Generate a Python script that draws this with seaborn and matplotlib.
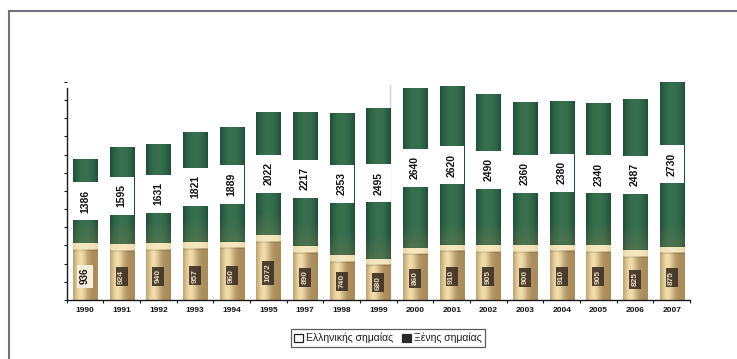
import numpy as np
import pandas as pd
import matplotlib
matplotlib.use("Agg")
import matplotlib.pyplot as plt
import seaborn as sns
from matplotlib.colors import to_rgb
from matplotlib.patches import Rectangle, Patch
from matplotlib.ticker import MultipleLocator, FixedLocator

# Ships per year: Greek flag (bottom) and foreign flag (top)
years = ["1990", "1991", "1992", "1993", "1994", "1995", "1997", "1998", "1999",
         "2000", "2001", "2002", "2003", "2004", "2005", "2006", "2007"]
greek = [936, 924, 940, 957, 960, 1072, 890, 740, 680,
         860, 910, 905, 900, 910, 905, 825, 875]
foreign = [1386, 1595, 1631, 1821, 1889, 2022, 2217, 2353, 2495,
           2640, 2620, 2490, 2360, 2380, 2340, 2487, 2730]
legend_labels = ["Ελληνικής σημαίας", "Ξένης σημαίας"]

df = pd.DataFrame({"year": years, "greek": greek, "foreign": foreign})
df["total"] = df["greek"] + df["foreign"]

sns.set_theme(style="white")
plt.rcParams["font.family"] = ["Liberation Sans", "DejaVu Sans"]

W, H = 737, 359
fig = plt.figure(figsize=(W / 100, H / 100), dpi=100)
fig.patch.set_facecolor("white")
ax = fig.add_axes([66.7 / W, 1 - 300 / H, (690 - 66.7) / W, 220 / H])
ax.set_facecolor("white")

GREEN = "#2c6448"
BEIGE = "#d8bc86"
BAR_W = 0.66

sns.barplot(data=df, x="year", y="total", color=GREEN, width=BAR_W,
            saturation=1, linewidth=0, ax=ax)
sns.barplot(data=df, x="year", y="greek", color=BEIGE, width=BAR_W,
            saturation=1, linewidth=0, ax=ax)

n = len(years)
patches = list(ax.patches)
green_patches = patches[:n]
beige_patches = patches[n:2 * n]


def mix(c1, c2, f):
    c1 = np.array(to_rgb(c1))
    c2 = np.array(to_rgb(c2))
    f = np.asarray(f)[..., None]
    return c1 * (1 - f) + c2 * f


def cylinder_profile(cols, edge, mid):
    t = np.linspace(0, 1, cols)
    f = np.sin(np.pi * t) ** 0.7
    return mix(edge, mid, f)


# shaded fills so the columns look rounded, as in a 3D column chart
for i, p in enumerate(green_patches):
    x0, w, h = p.get_x(), p.get_width(), p.get_height()
    rows, cols = 200, 40
    yv = np.linspace(0, h, rows)
    base = cylinder_profile(cols, "#1d4c36", "#37704f")
    img = np.repeat(base[None, :, :], rows, axis=0)
    fade = np.clip(1 - (yv - greek[i]) / 380.0, 0, 1) * 0.35
    fade[yv < greek[i]] = 0
    olive = np.array(to_rgb("#7d7a4c"))
    img = img * (1 - fade[:, None, None]) + olive * fade[:, None, None]
    im = ax.imshow(img, extent=[x0, x0 + w, 0, h], origin="lower",
                   aspect="auto", interpolation="bicubic",
                   zorder=p.get_zorder() + 0.05)
    im.set_clip_path(p)

for i, p in enumerate(beige_patches):
    x0, w, h = p.get_x(), p.get_width(), p.get_height()
    rows, cols = 200, 40
    yv = np.linspace(0, h, rows)
    t = np.linspace(0, 1, cols)
    edge = np.array(to_rgb("#a98b5c"))
    hi = np.array(to_rgb("#f1dcaa"))
    f = np.exp(-((t - 0.3) / 0.28) ** 2)
    base = edge * (1 - f[:, None]) + hi * f[:, None]
    img = np.repeat(base[None, :, :], rows, axis=0)
    band = yv > h - 105
    img[band] = mix("#e9d3a2", "#f6e8c0", np.sin(np.pi * t) ** 0.5)
    edge_line = (yv > h - 130) & (yv <= h - 105)
    img[edge_line] = img[edge_line] * 0.88
    im = ax.imshow(img, extent=[x0, x0 + w, 0, h], origin="lower",
                   aspect="auto", interpolation="bilinear",
                   zorder=p.get_zorder() + 0.1)
    im.set_clip_path(p)

# value labels
for i in range(n):
    ax.text(i, greek[i] + foreign[i] / 2, f"{foreign[i]}", rotation=90,
            ha="center", va="center", fontsize=7.5, fontweight="bold",
            color="#111111", zorder=10,
            bbox=dict(boxstyle="square,pad=0.72", facecolor="white",
                      edgecolor="none"))
    if i == 0:
        ax.text(i, greek[i] * 0.42, f"{greek[i]}", rotation=90,
                ha="center", va="center", fontsize=7, fontweight="bold",
                color="#111111", zorder=10,
                bbox=dict(boxstyle="square,pad=0.35", facecolor="#f7efdc",
                          edgecolor="none"))
    else:
        ax.text(i, greek[i] * 0.42, f"{greek[i]}", rotation=90,
                ha="center", va="center", fontsize=6, fontweight="bold",
                color="#e6d9bd", zorder=10,
                bbox=dict(boxstyle="square,pad=0.3", facecolor="#3d3024",
                          edgecolor="none", alpha=0.9))

# faint vertical rule after 1999
ax.plot([8.31, 8.31], [0, 3550], color="#cfcfcf", lw=1.0, zorder=1,
        clip_on=False)

ax.set_xlim(-0.5, n - 0.5)
ax.set_ylim(0, 3630)
ax.set_xlabel("")
ax.set_ylabel("")

for side in ("top", "right"):
    ax.spines[side].set_visible(False)
for side in ("left", "bottom"):
    ax.spines[side].set_color("#1a1a1a")
    ax.spines[side].set_linewidth(1.0)
ax.spines["left"].set_bounds(0, 3500)

ax.yaxis.set_major_locator(MultipleLocator(300))
ax.set_yticklabels([])
ax.tick_params(axis="y", which="major", direction="out", length=2.5,
               width=0.8, color="#1a1a1a", left=True)
ax.xaxis.set_minor_locator(FixedLocator(np.arange(-0.5, n, 1.0)))
ax.tick_params(axis="x", which="minor", direction="out", length=2.5,
               width=0.8, color="#1a1a1a", bottom=True)
ax.tick_params(axis="x", which="major", length=0, pad=5, labelsize=6,
               labelcolor="#111111")
for lbl in ax.get_xticklabels():
    lbl.set_fontweight("bold")

# legend
handles = [Patch(facecolor="white", edgecolor="#222222", linewidth=0.9),
           Patch(facecolor="#2a2a2a", edgecolor="#2a2a2a", linewidth=0.9)]
leg = fig.legend(handles, legend_labels, loc="center",
                 bbox_to_anchor=(388 / W, 1 - 338 / H), ncol=2,
                 frameon=True, fancybox=False, fontsize=7.5,
                 handlelength=0.8, handleheight=0.8, handletextpad=0.3,
                 columnspacing=0.9, borderpad=0.35)
leg.get_frame().set_edgecolor("#333333")
leg.get_frame().set_linewidth(0.9)
for t in leg.get_texts():
    t.set_color("#1a1a1a")

# outer frame
fig.add_artist(Rectangle((9 / W, -0.1), 1.0, (1 - 11 / H) + 0.1,
                         transform=fig.transFigure, fill=False,
                         edgecolor="#70707a", linewidth=1.5))

fig.savefig("out.png", dpi=100, facecolor="white")
